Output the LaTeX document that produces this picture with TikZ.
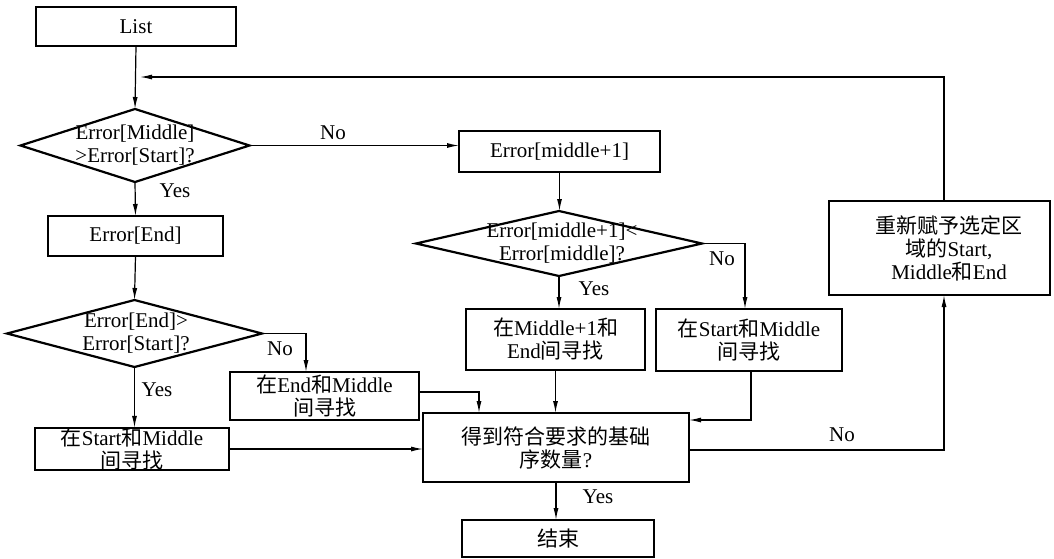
\documentclass[tikz,border=0pt]{standalone}
\usepackage{fontspec}
\setmainfont{Liberation Serif}
\newfontfamily\zh{Noto Sans CJK SC}
\usetikzlibrary{arrows.meta,shapes.geometric}
\begin{document}
\begin{tikzpicture}[x=1pt,y=-1pt,
  every node/.style={font=\fontsize{21}{23}\selectfont, inner sep=0pt, outer sep=0pt},
  box/.style={draw, line width=2.2pt, rectangle, align=center},
  dia/.style={draw, line width=2.2pt, diamond},
  lbl/.style={align=center},
  arr/.style={line width=1.2pt, -{Latex[length=12pt,width=5pt]}},
]
\useasboundingbox (0,0) rectangle (1054,558);
% boxes
\node[box, minimum width=200pt, minimum height=39pt] (list) at (136,26.5) {List};
\node[dia, minimum width=229pt, minimum height=73pt] (d1) at (135,145.5) {};
\node[lbl] (d1t) at (135,145.5) {Error[Middle]\\>Error[Start]?};
\node[box, minimum width=175pt, minimum height=40pt] (errend) at (135.5,236) {Error[End]};
\node[dia, minimum width=255pt, minimum height=67pt] (d2) at (134.5,333.5) {};
\node[lbl] (d2t) at (136,333.5) {Error[End]>\\Error[Start]?};
\node[box, minimum width=189pt, minimum height=48pt] (endmid) at (324.5,396) {{\zh 在}End{\zh 和}Middle\\{\zh 间寻找}};
\node[box, minimum width=194pt, minimum height=42pt] (startmid) at (132,449) {{\zh 在}Start{\zh 和}Middle\\{\zh 间寻找}};
\node[box, minimum width=266pt, minimum height=69pt] (big) at (556,447.5) {{\zh 得到符合要求的基础}\\{\zh 序数量}?};
\node[box, minimum width=192pt, minimum height=37pt] (endbox) at (558,538.5) {{\zh 结束}};
\node[box, minimum width=201pt, minimum height=41pt] (em1) at (559.5,151.5) {Error[middle+1]};
\node[dia, minimum width=286pt, minimum height=65pt] (d3) at (559,243.5) {};
\node[lbl] (d3t) at (562,243.5) {Error[middle+1]<\\Error[middle]?};
\node[box, minimum width=179pt, minimum height=61pt] (mp1) at (555.5,339.5) {{\zh 在}Middle+1{\zh 和}\\End{\zh 间寻找}};
\node[box, minimum width=186pt, minimum height=62pt] (smr) at (749,340) {{\zh 在}Start{\zh 和}Middle\\{\zh 间寻找}};
\node[box, minimum width=221pt, minimum height=94pt] (re) at (939.5,248) {};
\node[lbl] (ret) at (949,248) {{\zh 重新赋予选定区}\\{\zh 域的}Start,\\Middle{\zh 和}End};
% labels
\node (no1) at (333,133) {No};
\node (yes1) at (175,191) {Yes};
\node (no2) at (280,349) {No};
\node (yes2) at (157,390) {Yes};
\node (no3) at (722,259) {No};
\node (yes3) at (594,289) {Yes};
\node (no4) at (842,435) {No};
\node (yes4) at (598,497) {Yes};
% connectors
\coordinate (fb) at (140,77);
\draw[arr] (list.south) -- (d1.north);
\draw[arr] ([xshift=4.5pt]re.north) |- (fb);
\draw[arr] (d1.east) -- (d1.east -| em1.west);
\draw[arr] (d1.south) -- (errend.north);
\draw[arr] (errend.south) -- (d2.north);
\draw[arr] (d2.east) -| ([xshift=-18.5pt]endmid.north);
\draw[arr] (d2.south) -- (d2.south |- startmid.north);
\draw[arr] (startmid.east) -- (startmid.east -| big.west);
\draw[arr] ([yshift=4pt]endmid.east) -| ([xshift=-77pt]big.north);
\draw[arr] (em1.south) -- (em1.south |- d3.north);
\draw[arr] (d3.south) -- (d3.south |- mp1.north);
\draw[arr] (d3.east) -| ([xshift=-4pt]smr.north);
\draw[arr] (mp1.south) -- (mp1.south |- big.north);
\draw[arr] ([xshift=2pt]smr.south) |- ([yshift=27.5pt]big.east);
\draw[arr] ([yshift=-2.5pt]big.east) -| ([xshift=4.5pt]re.south);
\draw[arr] (big.south) -- (big.south |- endbox.north);
\end{tikzpicture}
\end{document}
